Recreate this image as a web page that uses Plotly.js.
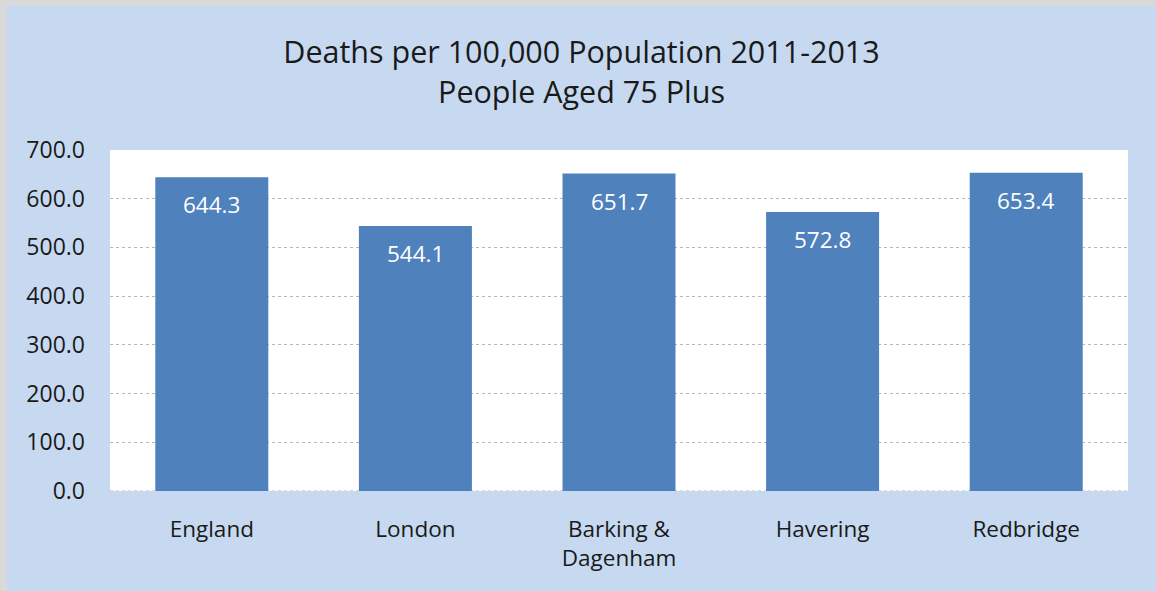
<!DOCTYPE html>
<html>
<head>
<meta charset="utf-8">
<script src="https://cdn.plot.ly/plotly-3.0.1.min.js"></script>
<style>
  html, body { margin: 0; padding: 0; background: #d9d9d9; width: 1156px; height: 591px; overflow: hidden; }
  #chart { position: absolute; left: 7px; top: 6px; width: 1149px; height: 585px; }
</style>
</head>
<body>
<div id="chart"></div>
<script>
const categories = ["England", "London", "Barking &<br>Dagenham", "Havering", "Redbridge"];
const deathRates = [644.3, 544.1, 651.7, 572.8, 653.4];
const yTickValues = [0, 100, 200, 300, 400, 500, 600, 700];
const titleLine1 = "Deaths per 100,000 Population 2011-2013";
const titleLine2 = "People Aged 75 Plus";

const FONT = "Open Sans, Noto Sans, sans-serif";

const trace = {
  type: "bar",
  x: categories,
  y: deathRates,
  marker: { color: "#4F81BD" },
  width: 0.555,
  hoverinfo: "x+y"
};

const labelAnnotations = categories.map((c, i) => ({
  x: c,
  y: deathRates[i],
  xref: "x",
  yref: "y",
  text: deathRates[i].toFixed(1),
  showarrow: false,
  yanchor: "top",
  yshift: -10,
  font: { family: FONT, size: 22.5, color: "#ffffff" }
}));

const layout = {
  width: 1149,
  height: 585,
  paper_bgcolor: "#C6D9F0",
  plot_bgcolor: "#ffffff",
  margin: { l: 103, r: 28, t: 144, b: 100 },
  showlegend: false,
  title: {
    text: titleLine1 + "<br>" + titleLine2,
    font: { family: FONT, size: 30.5, color: "#1a1a1a" },
    x: 0.5,
    xanchor: "center",
    y: 0.902,
    yanchor: "middle"
  },
  xaxis: {
    type: "category",
    showgrid: false,
    showline: false,
    zeroline: false,
    ticks: "",
    tickfont: { family: FONT, size: 22.5, color: "#1a1a1a" },
    ticklabelstandoff: 22
  },
  yaxis: {
    range: [0, 700],
    tickvals: yTickValues,
    tickformat: ".1f",
    showgrid: true,
    gridcolor: "#bfb4b4",
    griddash: "dot",
    gridwidth: 1,
    zeroline: false,
    showline: false,
    ticks: "",
    tickfont: { family: FONT, size: 23, color: "#1a1a1a" },
    ticklabelstandoff: 24
  },
  shapes: [{
    type: "line",
    xref: "paper",
    yref: "y",
    x0: 0, x1: 1, y0: 0, y1: 0,
    line: { color: "#bfb4b4", width: 1, dash: "dot" },
    layer: "below"
  }],
  annotations: labelAnnotations
};

Plotly.newPlot("chart", [trace], layout, { displayModeBar: false, staticPlot: true });
</script>
</body>
</html>
